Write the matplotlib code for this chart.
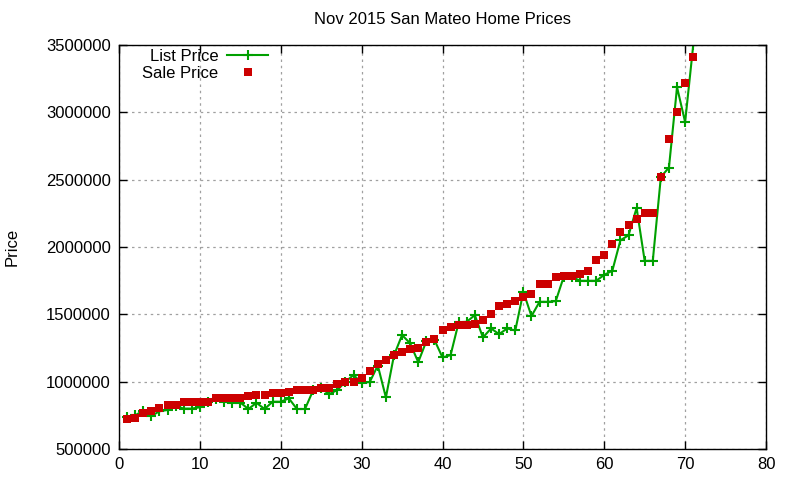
import matplotlib
matplotlib.use("Agg")
import matplotlib.pyplot as plt
from matplotlib.ticker import MultipleLocator, FuncFormatter

plt.rcParams['font.family'] = ['Liberation Sans', 'DejaVu Sans']

x_idx = list(range(1, 72))

sale_price = [725000, 732000, 769000, 782000, 806000, 829000, 829000, 851000, 851000, 851000,
              851000, 878000, 880000, 880000, 880000, 895000, 902000, 902000, 918000, 918000,
              924000, 939000, 939000, 939000, 952000, 952000, 982000, 997000, 997000, 1027000,
              1079000, 1130000, 1160000, 1197000, 1220000, 1242000, 1249000, 1294000, 1316000, 1383000,
              1405000, 1420000, 1420000, 1427000, 1457000, 1501000, 1561000, 1576000, 1598000, 1627000,
              1650000, 1724000, 1724000, 1776000, 1783000, 1783000, 1798000, 1820000, 1902000, 1939000,
              2022000, 2112000, 2162000, 2209000, 2251000, 2251000, 2520000, 2802000, 3002000, 3217000,
              3410000]

list_price = [740000, 750000, 785000, 745000, 780000, 790000, 820000, 800000, 800000, 810000,
              850000, 875000, 850000, 845000, 845000, 797000, 843000, 797000, 851000, 851000,
              876000, 797000, 797000, 935000, 950000, 908000, 938000, 1000000, 1049000, 992000,
              997000, 1120000, 883000, 1195000, 1346000, 1285000, 1145000, 1300000, 1310000, 1180000,
              1197000, 1440000, 1445000, 1494000, 1328000, 1395000, 1353000, 1395000, 1380000, 1667000,
              1487000, 1593000, 1593000, 1598000, 1780000, 1780000, 1749000, 1749000, 1749000, 1793000,
              1824000, 2050000, 2087000, 2290000, 1897000, 1897000, 2520000, 2590000, 3187000, 2928000,
              3497000]

title = "Nov 2015 San Mateo Home Prices"

fig = plt.figure(figsize=(8, 4.8), dpi=100)
ax = fig.add_axes([119/800, 1 - 449/480, (766 - 119)/800, (449 - 45)/480])

ax.plot(x_idx, list_price, color='#00a000', lw=1.5, marker='+', markersize=7.5,
        markeredgewidth=1.5, label='List Price', zorder=2)
ax.plot(x_idx, sale_price, linestyle='none', color='#cc0000', marker='s', markersize=6.3,
        markeredgewidth=0, label='Sale Price', zorder=3)

ax.set_xlim(0, 80)
ax.set_ylim(500000, 3500000)
ax.xaxis.set_major_locator(MultipleLocator(10))
ax.yaxis.set_major_locator(MultipleLocator(500000))
ax.yaxis.set_major_formatter(FuncFormatter(lambda v, p: f"{int(v)}"))
ax.tick_params(direction='in', length=6, width=1, top=True, right=True,
               labelsize=12, pad=6, colors='black')
ax.grid(True, color='#a0a0a0', linestyle=(0, (2, 3)), linewidth=0.9)
for s in ax.spines.values():
    s.set_linewidth(1.0)
    s.set_color('black')

ax.set_ylabel('Price', fontsize=12)
ax.yaxis.set_label_coords(-0.154, 0.5)

fig.text((119 + 766) / 2 / 800, 1 - 20 / 480, title, ha='center', va='center', fontsize=12)

leg = ax.legend(loc='upper left', bbox_to_anchor=(0.018, 1.019), frameon=False, markerfirst=False,
                fontsize=12, handlelength=2.5, borderpad=0.2, labelspacing=0.1, handletextpad=0.5)

fig.savefig('out.png', dpi=100)
